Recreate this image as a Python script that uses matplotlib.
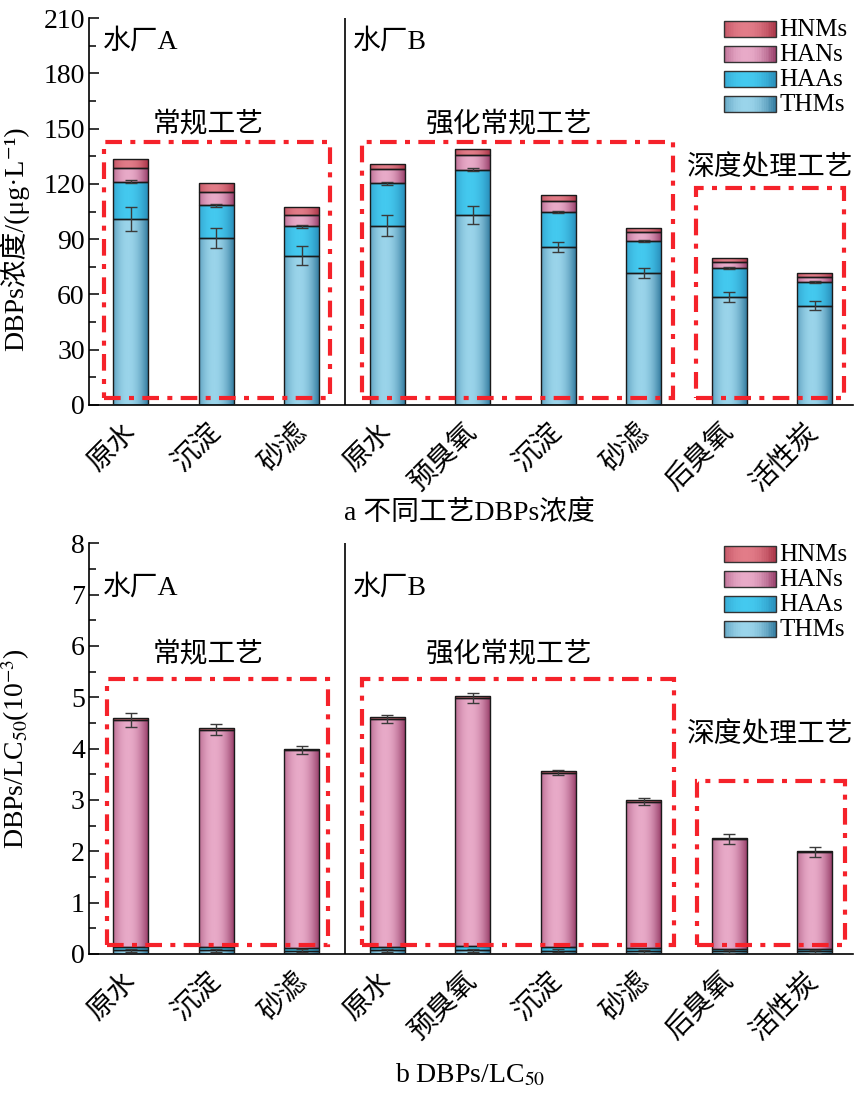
import numpy as np
import matplotlib
matplotlib.use('Agg')
import matplotlib.pyplot as plt
import matplotlib.transforms as mtransforms
from matplotlib.colors import LinearSegmentedColormap
from matplotlib.patches import Rectangle
from matplotlib.legend_handler import HandlerBase

plt.rcParams['font.family'] = ['Liberation Serif', 'Noto Sans CJK SC', 'DejaVu Sans']
plt.rcParams['mathtext.fontset'] = 'stix'

cats = ['原水', '沉淀', '砂滤', '原水', '预臭氧', '沉淀', '砂滤', '后臭氧', '活性炭']
series = ['THMs', 'HAAs', 'HANs', 'HNMs']

# panel a: concentration (ug/L)
conc_thms = [100.7, 90.4, 81.0, 97.3, 103.1, 85.6, 71.4, 58.6, 53.9]
conc_haas = [20.5, 18.1, 16.1, 23.0, 24.7, 19.1, 17.4, 15.9, 12.7]
conc_hans = [7.2, 6.9, 6.1, 7.6, 7.8, 5.9, 4.9, 3.3, 3.0]
conc_hnms = [4.9, 4.9, 4.4, 2.7, 3.3, 3.1, 2.5, 2.1, 1.8]
conc_thms_err = [6.5, 5.4, 5.2, 5.7, 5.0, 2.8, 2.7, 2.8, 2.3]
conc_haas_err = [0.8, 0.8, 0.8, 0.8, 0.8, 0.5, 0.5, 0.5, 0.5]

# panel b: DBPs/LC50 (1e-3)
tox_thms = [0.07, 0.07, 0.06, 0.07, 0.07, 0.06, 0.05, 0.05, 0.05]
tox_haas = [0.07, 0.07, 0.06, 0.07, 0.08, 0.07, 0.06, 0.05, 0.05]
tox_hans = [4.42, 4.23, 3.85, 4.44, 4.83, 3.40, 2.86, 2.14, 1.88]
tox_hnms = [0.03, 0.03, 0.03, 0.04, 0.04, 0.03, 0.03, 0.02, 0.03]
tox_thms_err = [0.03, 0.03, 0.03, 0.03, 0.03, 0.03, 0.03, 0.03, 0.03]
tox_hans_err = [0.14, 0.10, 0.08, 0.08, 0.10, 0.05, 0.06, 0.10, 0.10]

# edge / centre colours of the gradient fill
grad_cols = {
    'THMs': ('#2b7499', '#9ad4ea'),
    'HAAs': ('#2789b6', '#44c9ef'),
    'HANs': ('#923763', '#e8aac8'),
    'HNMs': ('#a52f43', '#e27c88'),
}


def make_cmap(name):
    edge, mid = grad_cols[name]
    return LinearSegmentedColormap.from_list(name, [edge, mid])


xs = np.linspace(0, 1, 64)
profile = np.clip(1 - ((xs - 0.42) / 0.58) ** 2, 0, 1)


def grad_bars(ax, x, h, bottom, name, width=0.41):
    bars = ax.bar(x, h, width, bottom=bottom, color='none',
                  edgecolor='#1a1a1a', lw=1.0, zorder=3)
    cmap = make_cmap(name)
    for r in bars:
        x0, y0 = r.get_x(), r.get_y()
        im = ax.imshow(profile[np.newaxis, :], extent=[x0, x0 + r.get_width(), y0, y0 + r.get_height()],
                       aspect='auto', cmap=cmap, vmin=0, vmax=1, zorder=2, interpolation='bilinear')
        im.set_clip_path(r)
    return bars


class GradHandler(HandlerBase):
    def __init__(self, name):
        super().__init__()
        self.name = name

    def create_artists(self, legend, orig, xd, yd, w, h, fontsize, trans):
        cmap = make_cmap(self.name)
        arts = []
        n = 30
        for i in range(n):
            v = np.clip(1 - (((i + 0.5) / n - 0.42) / 0.58) ** 2, 0, 1)
            arts.append(Rectangle((xd + w * i / n, yd), w / n + 0.3, h, fc=cmap(v), ec='none', transform=trans))
        arts.append(Rectangle((xd, yd), w, h, fc='none', ec='#333333', lw=1.0, transform=trans))
        return arts


def style_axes(ax, ymax, major, minor):
    ax.set_xlim(-0.49, 8.45)
    ax.set_ylim(0, ymax)
    ax.set_yticks(np.arange(0, ymax + 0.001, major))
    ax.set_yticks(np.arange(0, ymax + 0.001, minor), minor=True)
    ax.set_xticks(range(len(cats)))
    ax.set_xticklabels(cats, rotation=45, ha='right', va='center', rotation_mode='anchor',
                       fontsize=20, family=['Noto Sans CJK SC'])
    shift = mtransforms.ScaledTranslation(14 / 100, 0, fig.dpi_scale_trans)
    for lab in ax.get_xticklabels():
        lab.set_transform(lab.get_transform() + shift)
    ax.tick_params(axis='x', length=0, pad=16)
    ax.tick_params(axis='y', which='major', direction='in', length=7, width=1.1, labelsize=20, pad=3)
    ax.tick_params(axis='y', which='minor', direction='in', length=5, width=1.1)
    for s in ['top', 'right']:
        ax.spines[s].set_visible(False)
    for s in ['left', 'bottom']:
        ax.spines[s].set_linewidth(1.2)
    ax.axvline(2.5, color='black', lw=1.2, zorder=1)


def red_box(ax, x0, x1, y0, y1):
    ax.add_patch(Rectangle((x0, y0), x1 - x0, y1 - y0, fill=False, ec='#f5222a', lw=3,
                           ls=(0, (4, 2, 1.2, 2)), zorder=5))


def stack_panel(ax, vals, errs):
    x = np.arange(len(cats))
    bottom = np.zeros(len(cats))
    handles = {}
    for name, v in zip(series, vals):
        v = np.array(v)
        handles[name] = grad_bars(ax, x, v, bottom, name)
        if name in errs:
            ax.errorbar(x, bottom + v, yerr=errs[name], fmt='none', ecolor='#3a3a3a',
                        elinewidth=1.0, capsize=4, capthick=1.0, zorder=4)
        bottom = bottom + v
    hs = [handles[n] for n in series[::-1]]
    leg = ax.legend(hs, series[::-1], loc='upper left', bbox_to_anchor=(0.831, 0.998),
                    frameon=False, fontsize=18, handlelength=2.1, handleheight=0.6,
                    handletextpad=0.12, labelspacing=0.12, borderpad=0, borderaxespad=0,
                    handler_map={handles[n]: GradHandler(n) for n in series})
    return leg


fig = plt.figure(figsize=(8.65, 10.94), dpi=100)
ax1 = fig.add_axes([0.1029, 0.6298, 0.8832, 0.3537])
ax2 = fig.add_axes([0.1029, 0.1280, 0.8832, 0.3754])

# panel a
stack_panel(ax1, [conc_thms, conc_haas, conc_hans, conc_hnms],
            {'THMs': conc_thms_err, 'HAAs': conc_haas_err})
style_axes(ax1, 210, 30, 15)
ax1.set_ylabel('DBPs浓度/(μg·L⁻¹)', fontsize=20)
ax1.yaxis.set_label_coords(-0.078, 0.43)
red_box(ax1, -0.32, 2.33, 3.8, 142.5)
red_box(ax1, 2.70, 6.34, 3.8, 143.0)
red_box(ax1, 6.61, 8.35, 3.8, 118.0)
ax1.text(-0.33, 197, '水厂A', fontsize=20, va='center', ha='left')
ax1.text(2.60, 197, '水厂B', fontsize=20, va='center', ha='left')
ax1.text(0.9, 152, '常规工艺', fontsize=20, va='center', ha='center')
ax1.text(4.42, 152, '强化常规工艺', fontsize=20, va='center', ha='center')
ax1.text(7.48, 128.5, '深度处理工艺', fontsize=20, va='center', ha='center')

# panel b
stack_panel(ax2, [tox_thms, tox_haas, tox_hans, tox_hnms],
            {'THMs': tox_thms_err, 'HANs': tox_hans_err})
style_axes(ax2, 8, 1, 0.5)
ax2.set_ylabel(r'DBPs/LC$_{50}$(10$^{-3}$)', fontsize=20)
ax2.yaxis.set_label_coords(-0.075, 0.5)
red_box(ax2, -0.28, 2.31, 0.17, 5.35)
red_box(ax2, 2.70, 6.36, 0.17, 5.36)
red_box(ax2, 6.63, 8.36, 0.17, 3.37)
ax2.text(-0.33, 7.13, '水厂A', fontsize=20, va='center', ha='left')
ax2.text(2.60, 7.13, '水厂B', fontsize=20, va='center', ha='left')
ax2.text(0.9, 5.83, '常规工艺', fontsize=20, va='center', ha='center')
ax2.text(4.42, 5.83, '强化常规工艺', fontsize=20, va='center', ha='center')
ax2.text(7.48, 4.27, '深度处理工艺', fontsize=20, va='center', ha='center')

fig.text(0.543, 0.531, 'a 不同工艺DBPs浓度', fontsize=20, ha='center', va='center')
fig.text(0.543, 0.017, r'b DBPs/LC$_{50}$', fontsize=20, ha='center', va='center')

fig.savefig('out.png', dpi=100)
